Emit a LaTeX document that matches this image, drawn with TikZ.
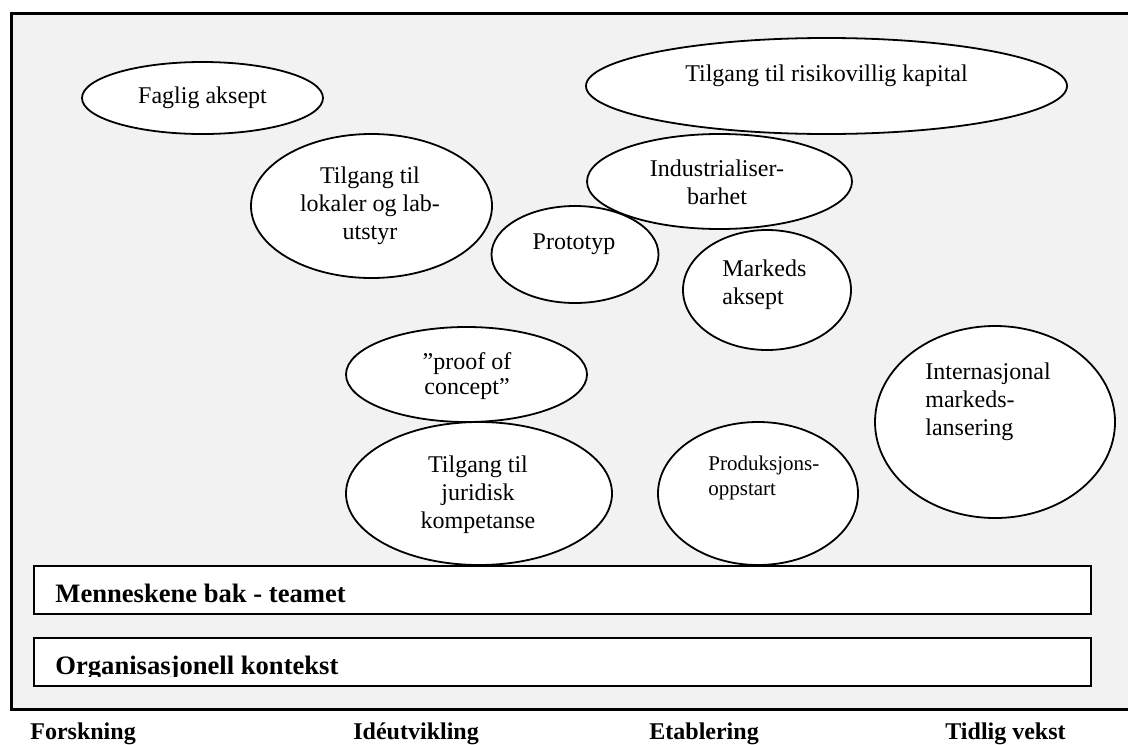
\documentclass[tikz,border=0pt]{standalone}
\usepackage{fontspec}
\setmainfont{Liberation Serif}
\usetikzlibrary{shapes.geometric}
\definecolor{panel}{HTML}{F2F2F2}
\begin{document}
\begin{tikzpicture}[x=0.5pt,y=-0.5pt,
  oval/.style={ellipse, draw=black, line width=0.9pt, fill=white, inner sep=0pt},
  txt/.style={font=\fontsize{12}{13.8}\selectfont, inner sep=0pt, anchor=base},
  bar/.style={draw=black, line width=0.9pt, fill=white},
  barlabel/.style={font=\fontsize{13.3}{15}\selectfont\bfseries, inner sep=0pt, anchor=base west},
  phase/.style={font=\fontsize{12}{14}\selectfont\bfseries, inner sep=0pt, anchor=base west}]
\useasboundingbox (0,0) rectangle (1128,744);
\fill[white] (0,0) rectangle (1128,744);
\fill[panel] (11.5,13.5) rectangle (1128,709.5);
\draw[line width=1.5pt] (1135,13.5) -- (11.5,13.5) -- (11.5,709.5) -- (1135,709.5);

% ellipses (text nodes anchored at the baseline of their last line)
\node[oval, minimum width=120.5pt, minimum height=36pt] (faglig) at (202.5,98) {};
\node[txt] (faglig-t) at (202.5,103) {Faglig aksept};

\node[oval, minimum width=240.5pt, minimum height=48pt] (kapital) at (826.5,86) {};
\node[txt] (kapital-t) at (826.5,81) {Tilgang til risikovillig kapital};

\node[oval, minimum width=120.5pt, minimum height=72pt] (lokaler) at (371.5,206) {};
\node[txt, align=center] (lokaler-t) at (370,239) {Tilgang til\\lokaler og lab-\\utstyr};

\node[oval, minimum width=132.5pt, minimum height=47.5pt] (industri) at (719.5,181.5) {};
\node[txt, align=center] (industri-t) at (717,204) {Industrialiser-\\barhet};

\node[oval, minimum width=83.5pt, minimum height=48.5pt] (prototyp) at (575,254.5) {};
\node[txt] (prototyp-t) at (574,249) {Prototyp};

\node[oval, minimum width=84pt, minimum height=60pt] (markeds) at (767,290) {};
\node[txt, align=left, anchor=base west] (markeds-t) at (722,304) {Markeds\\aksept};

\node[oval, minimum width=120.5pt, minimum height=47.5pt] (proof) at (466.5,374.5) {};
\node[txt, align=center, font=\fontsize{12}{12.5}\selectfont] (proof-t) at (467,394) {”proof of\\concept”};

\node[oval, minimum width=133pt, minimum height=71.5pt] (juridisk) at (479,493.5) {};
\node[txt, align=center] (juridisk-t) at (478,528) {Tilgang til\\juridisk\\kompetanse};

\node[oval, minimum width=100pt, minimum height=71.5pt] (produksjon) at (758,493.5) {};
\node[txt, align=left, anchor=base west, font=\fontsize{10.5}{12.5}\selectfont] (produksjon-t) at (708,495) {Produksjons-\\oppstart};

\node[oval, minimum width=120pt, minimum height=96pt] (internasjonal) at (995,422) {};
\node[txt, align=left, anchor=base west] (internasjonal-t) at (925,435) {Internasjonal\\markeds-\\lansering};

% bars
\node[bar, minimum width=528.5pt, minimum height=24pt, inner sep=0pt] (team) at (562.5,590) {};
\node[barlabel] (team-t) at (55,602) {Menneskene bak - teamet};
\node[bar, minimum width=528.5pt, minimum height=24pt, inner sep=0pt] (org) at (562.5,662) {};
\begin{scope}
\clip (34,638) rectangle (1091,676);
\node[barlabel] (org-t) at (55,674) {Organisasjonell kontekst};
\end{scope}

% phases
\node[phase] (forskning) at (30,739) {Forskning};
\node[phase] (ideutvikling) at (353,739) {Idéutvikling};
\node[phase] (etablering) at (649,739) {Etablering};
\node[phase] (tidlig) at (945,739) {Tidlig vekst};
\end{tikzpicture}
\end{document}
